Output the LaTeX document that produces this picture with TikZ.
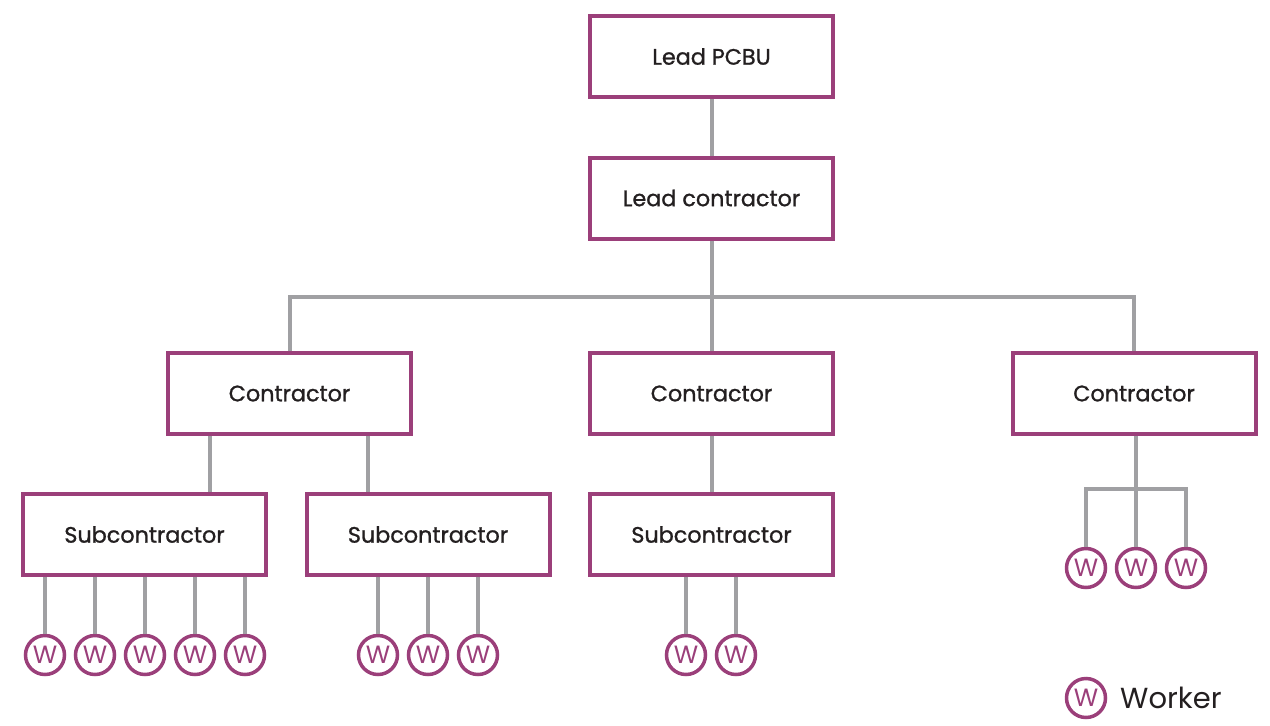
\documentclass[tikz,border=0pt]{standalone}
\usepackage{fontspec}
\setmainfont{Poppins}
\newfontfamily\boxfont{Poppins}[FakeBold=1.1]
\usetikzlibrary{calc}
\definecolor{plum}{HTML}{9B3F7A}
\definecolor{wire}{HTML}{A0A0A3}
\definecolor{ink}{HTML}{231F20}
\tikzset{
  box/.style={draw=plum, line width=4pt, fill=white, minimum width=243pt, minimum height=81pt, inner sep=0pt, font=\boxfont\fontsize{22.3}{22}\selectfont, text=ink},
  worker/.style={circle, draw=plum, line width=3.5pt, minimum size=39pt, inner sep=0pt, text=plum, font=\fontsize{25}{25}\selectfont},
  conn/.style={draw=wire, line width=4pt}
}
\begin{document}
\begin{tikzpicture}[x=1pt,y=-1pt]
\useasboundingbox (0,0) rectangle (1270,726);
\node[box] (pcbu) at (711.5,56.5) {Lead PCBU};
\node[box] (lc) at (711.5,198) {Lead contractor};
\node[box] (c1) at (289.5,393.5) {Contractor};
\node[box] (c2) at (711.5,393.5) {Contractor};
\node[box] (c3) at (1134,393.5) {Contractor};
\node[box] (s1) at (144.5,534.5) {Subcontractor};
\node[box] (s2) at (428,534.5) {Subcontractor};
\node[box] (s3) at (711.5,534.5) {Subcontractor};
\foreach \i/\x in {1/45,2/95,3/145,4/195,5/245}{\node[worker] (wa\i) at (\x,655) {W};}
\foreach \i/\x in {1/378,2/428,3/478}{\node[worker] (wb\i) at (\x,655) {W};}
\foreach \i/\x in {1/686,2/736}{\node[worker] (wc\i) at (\x,655) {W};}
\foreach \i/\x in {1/1086,2/1136,3/1186}{\node[worker] (wd\i) at (\x,568) {W};}
\node[worker] (lw) at (1086,698) {W};
\node[anchor=west, inner sep=0pt, font=\fontsize{29}{29}\selectfont, text=ink] (lt) at (1120,698) {Worker};
\coordinate (bar) at (711.5,297);
\coordinate (rbar) at (1136,489);
\draw[conn] (pcbu.south) -- (lc.north);
\draw[conn] (lc.south) -- (c2.north);
\draw[conn] (c1.north) -- (c1.north |- bar) -- (c3.north |- bar) -- (c3.north);
\draw[conn] (c1.south) ++(-79.5,0) coordinate (ca) -- (ca |- s1.north);
\draw[conn] (c1.south) ++(78.5,0) coordinate (cb) -- (cb |- s2.north);
\draw[conn] (c2.south) -- (s3.north);
\foreach \i in {1,...,5}{\draw[conn] (wa\i.north |- s1.south) -- (wa\i.north);}
\foreach \i in {1,2,3}{\draw[conn] (wb\i.north |- s2.south) -- (wb\i.north);}
\foreach \i in {1,2}{\draw[conn] (wc\i.north |- s3.south) -- (wc\i.north);}
\draw[conn] (wd2.north |- c3.south) -- (wd2.north);
\draw[conn] (wd1.north) -- (wd1.north |- rbar) -- (wd3.north |- rbar) -- (wd3.north);
\end{tikzpicture}
\end{document}
